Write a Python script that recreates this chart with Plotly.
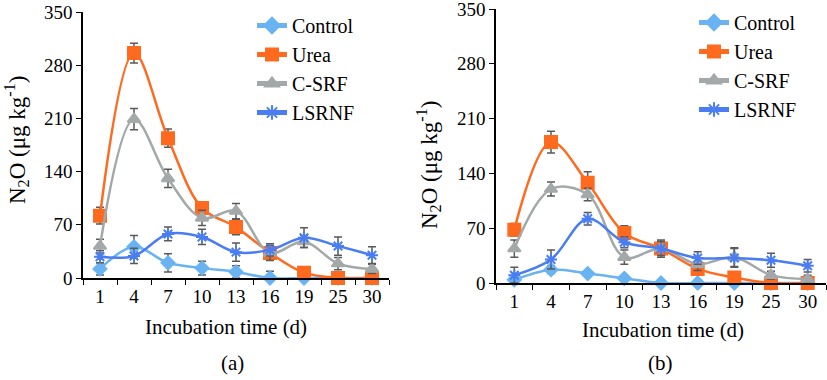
import plotly.graph_objects as go

days = ["1", "4", "7", "10", "13", "16", "19", "25", "30"]
y_ticks = [0, 70, 140, 210, 280, 350]
series_names = ["Control", "Urea", "C-SRF", "LSRNF"]

# Panel (a)
a_control = [12, 41, 20, 13, 8, 0, 0, 0, 0]
a_control_err = [8, 15, 12, 9, 8, 9, 6, 4, 4]
a_urea = [82, 296, 184, 92, 67, 33, 7, 0, 0]
a_urea_err = [11, 13, 12, 8, 10, 6, 5, 3, 3]
a_csrf = [42, 209, 131, 79, 88, 33, 48, 19, 12]
a_csrf_err = [9, 14, 12, 10, 10, 10, 8, 8, 6]
a_lsrnf = [28, 29, 58, 54, 34, 37, 53, 42, 30]
a_lsrnf_err = [8, 10, 9, 10, 12, 8, 13, 12, 11]

# Panel (b)
b_control = [4, 17, 12, 6, 0, 0, 0, 0, 0]
b_control_err = [4, 5, 3, 3, 2, 2, 2, 2, 2]
b_urea = [68, 180, 128, 64, 44, 18, 7, 0, 0]
b_urea_err = [8, 14, 14, 9, 9, 7, 5, 3, 3]
b_csrf = [44, 120, 113, 33, 44, 24, 33, 10, 5]
b_csrf_err = [11, 9, 8, 9, 9, 8, 12, 5, 5]
b_lsrnf = [10, 30, 82, 52, 44, 32, 32, 29, 22]
b_lsrnf_err = [10, 12, 8, 7, 11, 8, 12, 9, 8]

colors = ["#69B3F3", "#FF6A1F", "#A3A9A8", "#4A7DF2"]
symbols = ["diamond", "square", "triangle-up", "asterisk-open"]
sizes = [10, 12, 11, 10]
ERR_COLOR = "#5a5a5a"
FONT = "Liberation Serif"

W, H = 827, 380

fig = go.Figure()

panels = [
    ("x", "y", "legend", [a_control, a_urea, a_csrf, a_lsrnf],
     [a_control_err, a_urea_err, a_csrf_err, a_lsrnf_err]),
    ("x2", "y2", "legend2", [b_control, b_urea, b_csrf, b_lsrnf],
     [b_control_err, b_urea_err, b_csrf_err, b_lsrnf_err]),
]

for xa, ya, leg, vals, errs in panels:
    for i, name in enumerate(series_names):
        fig.add_trace(go.Scatter(
            x=days, y=vals[i], name=name, xaxis=xa, yaxis=ya, legend=leg,
            mode="lines+markers",
            line=dict(color=colors[i], width=2.5, shape="spline", smoothing=1.0),
            marker=dict(symbol=symbols[i], size=sizes[i], color=colors[i],
                        line=dict(color=colors[i], width=2)),
            error_y=dict(type="data", array=errs[i], color=ERR_COLOR,
                         thickness=1.5, width=4),
            cliponaxis=False,
        ))

xcommon = dict(type="category", categoryorder="array", categoryarray=days,
               range=[-0.5, 8.5], tickson="boundaries", ticks="outside",
               ticklen=5, tickwidth=1.2, tickcolor="black",
               showline=True, linecolor="black", linewidth=1.5,
               showgrid=False, zeroline=False, automargin=False,
               ticklabeloverflow="allow",
               tickfont=dict(family=FONT, size=19, color="black"))
ycommon = dict(range=[0, 350], tickvals=y_ticks, ticks="outside", ticklen=5,
               tickwidth=1.2, tickcolor="black", showline=True,
               linecolor="black", linewidth=1.5, showgrid=False,
               zeroline=False, automargin=False, ticklabeloverflow="allow",
               tickfont=dict(family=FONT, size=19, color="black"))

legcommon = dict(font=dict(family=FONT, size=20, color="black"),
                 bgcolor="rgba(0,0,0,0)", xanchor="left", yanchor="top",
                 tracegroupgap=0, itemsizing="constant")


def px(v):
    return v / W


def py(v):
    return 1 - v / H


fig.update_layout(
    width=W, height=H,
    margin=dict(l=0, r=0, t=0, b=0, pad=0, autoexpand=False),
    paper_bgcolor="white", plot_bgcolor="white",
    showlegend=True,
    xaxis=dict(domain=[px(83), px(389)], anchor="y", **xcommon),
    yaxis=dict(domain=[py(278), py(12)], anchor="x", **ycommon),
    xaxis2=dict(domain=[px(496), px(826)], anchor="y2", **xcommon),
    yaxis2=dict(domain=[py(283), py(9)], anchor="x2", **ycommon),
    legend=dict(x=px(252), y=py(6), **legcommon),
    legend2=dict(x=px(694), y=py(3), **legcommon),
)

ann_font = dict(family=FONT, size=21, color="black")
title_font = dict(family=FONT, size=23, color="black")
common_ann = dict(xref="paper", yref="paper", showarrow=False,
                  xanchor="center", yanchor="middle")
fig.add_annotation(text="N<sub>2</sub>O (μg kg<sup>-1</sup>)", textangle=-90,
                   x=px(16), y=py(140), font=title_font, **common_ann)
fig.add_annotation(text="N<sub>2</sub>O (μg kg<sup>-1</sup>)", textangle=-90,
                   x=px(428), y=py(165), font=title_font, **common_ann)
fig.add_annotation(text="Incubation time (d)", x=px(226), y=py(327),
                   font=ann_font, **common_ann)
fig.add_annotation(text="Incubation time (d)", x=px(663), y=py(330),
                   font=ann_font, **common_ann)
fig.add_annotation(text="(a)", x=px(232), y=py(363), font=ann_font, **common_ann)
fig.add_annotation(text="(b)", x=px(660), y=py(363), font=ann_font, **common_ann)

fig.write_html("out.html",
               config={"displayModeBar": False},
               post_script="document.body.style.margin='0px';"
                           "document.body.style.overflow='hidden';")
